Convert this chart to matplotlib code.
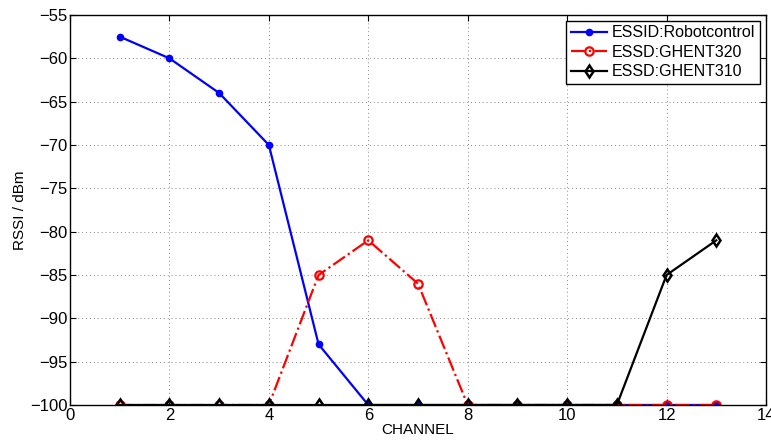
import matplotlib
matplotlib.use("Agg")
import matplotlib.pyplot as plt

plt.rcParams['font.family'] = ['Liberation Sans', 'DejaVu Sans']

channels = [1, 2, 3, 4, 5, 6, 7, 8, 9, 10, 11, 12, 13]
robot = [-57.5, -60, -64, -70, -93, -100, -100, -100, -100, -100, -100, -100, -100]
ghent320 = [-100, -100, -100, -100, -85, -81, -86, -100, -100, -100, -100, -100, -100]
ghent310 = [-100, -100, -100, -100, -100, -100, -100, -100, -100, -100, -100, -85, -81]

fig = plt.figure(figsize=(7.71, 4.43), dpi=100)
ax = fig.add_axes([70/771, 1 - 405/443, 696/771, 390/443])

ax.plot(channels, robot, '-', color='blue', marker='o', markersize=4.5,
        linewidth=1.6, label='ESSID:Robotcontrol')
ax.plot(channels, ghent320, '-.', color='red', marker='o', markersize=6,
        markerfacecolor='none', markeredgewidth=1.6, linewidth=1.6, label='ESSD:GHENT320')
ax.plot(channels, ghent310, '-', color='black', marker='d', markersize=6,
        markerfacecolor='none', markeredgewidth=1.8, linewidth=1.6, label='ESSD:GHENT310')

ax.set_xlim(0, 14)
ax.set_ylim(-100, -55)
ax.set_xticks(range(0, 15, 2))
ax.set_yticks(range(-100, -54, 5))
ax.grid(True, linestyle=(0, (1, 3)), color='#888888', linewidth=0.7)
ax.tick_params(direction='in', labelsize=12, length=4, pad=2)
ax.tick_params(top=True, right=True)
ax.set_xlabel('CHANNEL', fontsize=11, labelpad=0)
ax.set_ylabel('RSSI / dBm', fontsize=11, labelpad=2)
for s in ax.spines.values():
    s.set_linewidth(1.0)

leg = ax.legend(loc='upper right', fontsize=11.5, fancybox=False, framealpha=1,
                edgecolor='black', borderaxespad=0.35, handlelength=2.3,
                borderpad=0.3, labelspacing=0.28, handletextpad=0.3)
leg.get_frame().set_linewidth(1.0)

fig.savefig('out.png', dpi=100)
